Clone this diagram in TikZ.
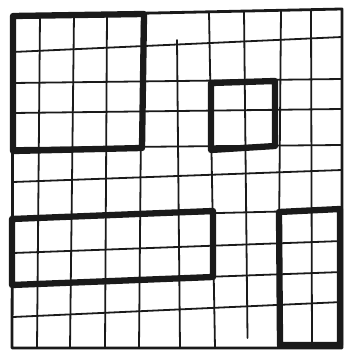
\documentclass[tikz,border=0pt]{standalone}
\definecolor{ink}{HTML}{1A1A1A}
\tikzset{
  gridline/.style={line width=1.8pt,draw=ink,line cap=round},
  border/.style={line width=2.8pt,draw=ink,line join=round,line cap=round},
  block/.style={line width=6.3pt,draw=ink,line join=round}
}
\begin{document}
\begin{tikzpicture}[x=1pt,y=-1pt]
\useasboundingbox (0,0) rectangle (349,352);
% vertical grid lines (x at top / x at bottom)
\foreach \xt/\xb in {40/37,74/70,107/105,142/139,209/215,281/278,311/312}{
  \pgfmathsetmacro{\yt}{16-7*(\xt-13)/329}
  \draw[gridline] (\xt,\yt) -- (\xb,348);
}
% hand-drawn lines that stop short
\draw[gridline] (177,40) -- (180,348);
\draw[gridline] (244,11) -- (247.5,338);
% horizontal grid lines (y at left / y at right)
\foreach \yl/\yr in {52/37,83/79,113/109,148/145,182/170,218/210,253/241,284/272,317/302}{
  \draw[gridline] (13,\yl) -- (342,\yr);
}
% outer border
\draw[border] (13,16) -- (342,9) -- (342,348) -- (12,348) -- cycle;
% thick blocks
\draw[block] (13,16) -- (144,14) -- (142,148) -- (13,151) -- cycle;
\draw[block] (211,83) -- (275,81) -- (275,146) -- (211,150) -- cycle;
\draw[block] (12,219) -- (213,211) -- (213,277) -- (12,285) -- cycle;
\draw[block] (279,212) -- (340,209) -- (340,345) -- (280,345) -- cycle;
\end{tikzpicture}
\end{document}
